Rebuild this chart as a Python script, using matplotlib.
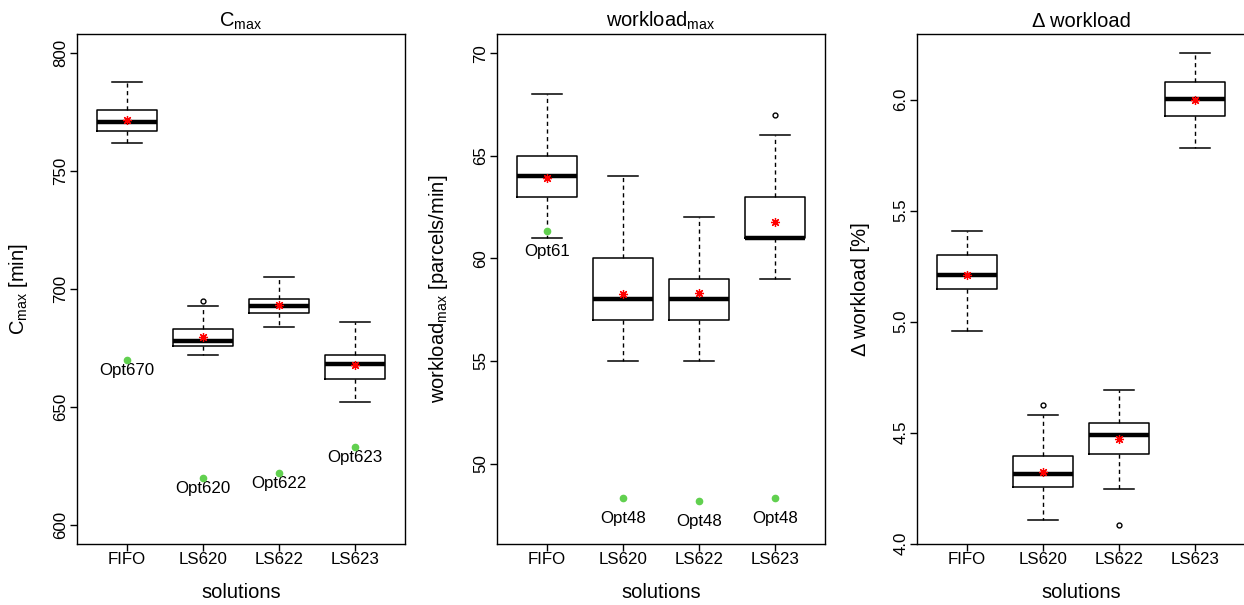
import numpy as np
import matplotlib.pyplot as plt

plt.rcParams['font.family'] = ['Liberation Sans', 'DejaVu Sans']
plt.rcParams['mathtext.fontset'] = 'custom'
plt.rcParams['mathtext.rm'] = 'Liberation Sans'
plt.rcParams['mathtext.it'] = 'Liberation Sans'

# ===================== DATOS =====================
solutions = ["FIFO", "LS620", "LS622", "LS623"]

# C_max [min]
cmax_whislo = [762, 672, 684, 652]
cmax_q1 = [767, 676, 690, 662]
cmax_med = [771, 678, 693, 668.4]
cmax_q3 = [776, 683, 696, 672]
cmax_whishi = [788, 693, 705, 686]
cmax_fliers = [[], [695], [], []]
cmax_mean = [771.7, 679.5, 693.3, 668.0]
cmax_opt = [670, 620, 622, 633]
cmax_opt_labels = ["Opt670", "Opt620", "Opt622", "Opt623"]

# workload_max [parcels/min]
wl_whislo = [61, 55, 55, 59]
wl_q1 = [63, 57, 57, 61]
wl_med = [64, 58, 58, 61]
wl_q3 = [65, 60, 59, 63]
wl_whishi = [68, 64, 62, 66]
wl_fliers = [[], [], [], [67]]
wl_mean = [63.94, 58.25, 58.32, 61.76]
wl_opt = [61.35, 48.3, 48.16, 48.3]
wl_opt_labels = ["Opt61", "Opt48", "Opt48", "Opt48"]

# delta workload [%]
dw_whislo = [4.959, 4.108, 4.246, 5.781]
dw_q1 = [5.145, 4.253, 4.404, 5.925]
dw_med = [5.211, 4.315, 4.491, 6.004]
dw_q3 = [5.298, 4.393, 4.543, 6.078]
dw_whishi = [5.407, 4.578, 4.693, 6.209]
dw_fliers = [[], [4.623], [4.082], []]
dw_mean = [5.21, 4.324, 4.470, 5.997]

# ===================== FIGURA =====================
W, H = 1244, 605
fig = plt.figure(figsize=(W / 100, H / 100), dpi=100)

lefts = [77, 497, 917]
aw, top, bottom = 328, 34, 543.5
ah = bottom - top


def make_stats(whislo, q1, med, q3, whishi, fliers):
    return [dict(whislo=a, q1=b, med=c, q3=d, whishi=e, fliers=f)
            for a, b, c, d, e, f in zip(whislo, q1, med, q3, whishi, fliers)]


def panel(ax, stats, means, ylim, yticks, yticklabels, title, ylabel,
          opt=None, opt_labels=None, label_dy=0.0):
    pos = np.arange(1, len(solutions) + 1)
    ax.bxp(stats, positions=pos, widths=0.8, showfliers=True,
           boxprops=dict(color="black", linewidth=1.1),
           medianprops=dict(color="black", linewidth=3.2, solid_capstyle="butt"),
           whiskerprops=dict(color="black", linewidth=1.0, linestyle=(0, (3, 2.5))),
           capprops=dict(color="black", linewidth=1.1),
           capwidths=0.4,
           flierprops=dict(marker="o", markersize=3.5, markerfacecolor="none",
                           markeredgecolor="black", markeredgewidth=1.0))
    ax.plot(pos, means, linestyle="none", marker=(8, 2, 0), markersize=6.5,
            color="red", markeredgewidth=0.9, zorder=5)
    if opt is not None:
        ax.plot(pos, opt, linestyle="none", marker="o", markersize=4.5,
                color="#61D04F", zorder=5)
        # etiquetas debajo del punto óptimo
        for p, v, lab in zip(pos, opt, opt_labels):
            ax.text(p, v - label_dy, lab, ha="center", va="center", fontsize=12.2)
    ax.set_xlim(0.34, 4.66)
    ax.set_ylim(*ylim)
    ax.set_xticks(pos)
    ax.set_xticklabels(solutions, fontsize=12.2)
    ax.set_yticks(yticks)
    ax.set_yticklabels(yticklabels, fontsize=12.2, rotation=90, va="center")
    ax.tick_params(length=5, width=1.0, pad=1.2)
    for s in ax.spines.values():
        s.set_linewidth(1.0)
    ax.set_title(title, fontsize=14.5, pad=5)
    ax.set_xlabel("solutions", fontsize=14.5)
    ax.xaxis.set_label_coords(0.5, -39 / ah)
    ax.set_ylabel(ylabel, fontsize=14.5)
    ax.yaxis.set_label_coords(-47 / aw, 0.5)


axes = []
for l in lefts:
    axes.append(fig.add_axes([l / W, 1 - bottom / H, aw / W, ah / H]))

panel(axes[0], make_stats(cmax_whislo, cmax_q1, cmax_med, cmax_q3, cmax_whishi, cmax_fliers),
      cmax_mean, (592.1, 808.2), [600, 650, 700, 750, 800],
      ["600", "650", "700", "750", "800"],
      r"C$_{\mathrm{max}}$", r"C$_{\mathrm{max}}$ [min]",
      cmax_opt, cmax_opt_labels, label_dy=4.5)

panel(axes[1], make_stats(wl_whislo, wl_q1, wl_med, wl_q3, wl_whishi, wl_fliers),
      wl_mean, (46.1, 70.94), [50, 55, 60, 65, 70],
      ["50", "55", "60", "65", "70"],
      r"workload$_{\mathrm{max}}$", r"workload$_{\mathrm{max}}$ [parcels/min]",
      wl_opt, wl_opt_labels, label_dy=1.0)

panel(axes[2], make_stats(dw_whislo, dw_q1, dw_med, dw_q3, dw_whishi, dw_fliers),
      dw_mean, (4.0, 6.296), [4.0, 4.5, 5.0, 5.5, 6.0],
      ["4.0", "4.5", "5.0", "5.5", "6.0"],
      "Δ workload", "Δ workload [%]")

fig.savefig("out.png", dpi=100)
